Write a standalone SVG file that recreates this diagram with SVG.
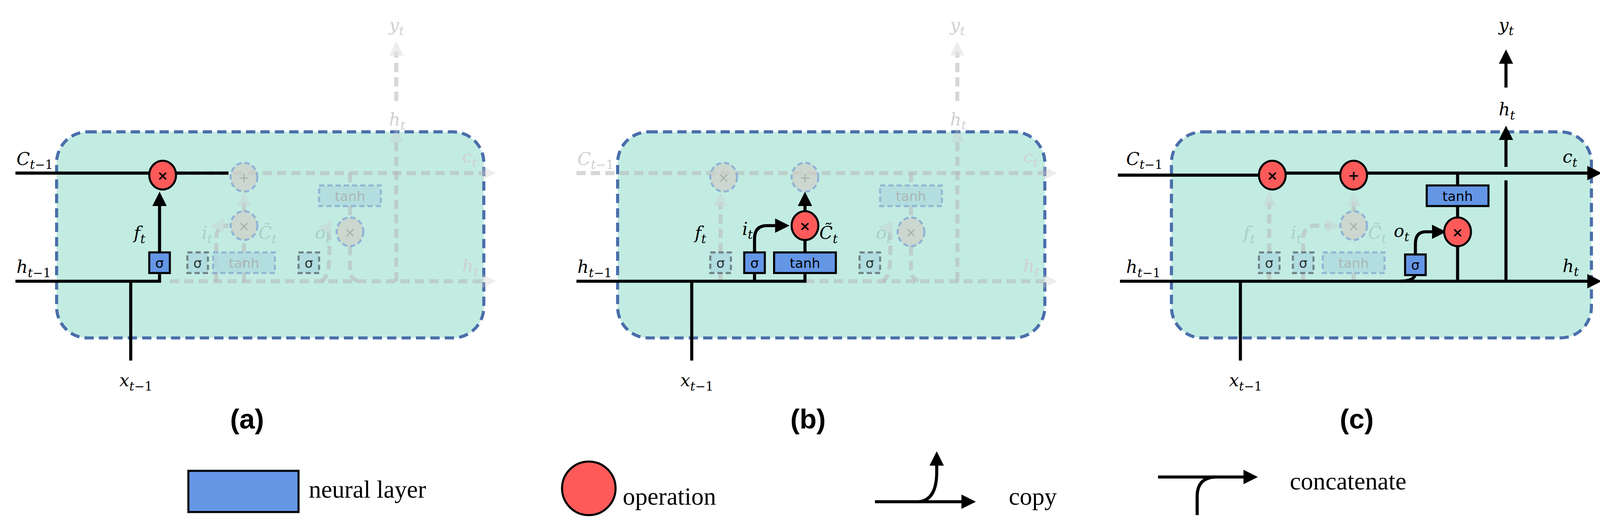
<svg xmlns="http://www.w3.org/2000/svg" width="4132" height="1348" viewBox="0 0 4132 1348">
<style>
.box{fill:#c2ece2;stroke:#4a6eab;stroke-width:3;stroke-dasharray:9 5}
.ln{fill:none;stroke:#000;stroke-width:3}
.gl{fill:none;stroke:#b8b8b8;stroke-width:4;stroke-dasharray:9 5;opacity:.55}
.nl{fill:#6496e6;stroke:#000;stroke-width:2}
.op{fill:#ff5a5a;stroke:#000;stroke-width:2}
.gnl{fill:#add9e0;stroke:#5a6a70;stroke-width:2;stroke-dasharray:5 3}
.gnl2{fill:#add9e0;stroke:#7fa0cc;stroke-width:2;stroke-dasharray:5 3}
.gop{fill:#cfcfc8;stroke:#7b9bd0;stroke-width:2;stroke-dasharray:5 3}
.sym{font-family:"DejaVu Sans",sans-serif;font-weight:bold;font-size:13px;text-anchor:middle}
.gsym{font-family:"DejaVu Sans",sans-serif;font-size:13px;text-anchor:middle;fill:#999}
.bt{font-family:"DejaVu Sans",sans-serif;font-size:13px;text-anchor:middle}
.gbt{font-family:"DejaVu Sans",sans-serif;font-size:13px;text-anchor:middle;fill:#a0a0a0}
.m{font-family:"DejaVu Serif","Liberation Serif",serif;font-style:italic;font-size:17px}
.s{font-size:12px}
.g{fill:#d0d0d0}
.gi{fill:#a8d0c6}
.cap{font-family:"Liberation Sans",Arial,sans-serif;font-weight:bold;font-size:27px;text-anchor:middle}
.leg{font-family:"Liberation Serif","Times New Roman",serif;font-size:24px}
</style>
<defs>
<marker id="ah" markerUnits="userSpaceOnUse" markerWidth="14" markerHeight="14" refX="4" refY="7" orient="auto"><path d="M0,0 L14,7 L0,14 z" fill="#000"/></marker>
<marker id="gh" markerUnits="userSpaceOnUse" markerWidth="14" markerHeight="14" refX="4" refY="7" orient="auto"><path d="M0,0 L14,7 L0,14 z" fill="#ccc" opacity=".6"/></marker>
</defs>
<rect width="4132" height="1348" fill="#fff"/>
<g transform="scale(2.6352)">

<!-- ===== Panel (a) ===== -->
<g id="panel-a">
<rect class="box" x="55" y="128" width="415" height="200" rx="30"/>
<g id="a-connectors">
<path class="gl" d="M171,168 H472" marker-end="url(#gh)"/>
<path class="gl" d="M165,273 H472" marker-end="url(#gh)"/>
<path class="gl" d="M385,273 V134" marker-end="url(#gh)"/>
<path class="gl" d="M385,98 V50" marker-end="url(#gh)"/>
<path class="gl" d="M210,273 V232 Q210,219 222,219 H214" marker-end="url(#gh)"/>
<path class="gl" d="M237,273 V233"/>
<path class="gl" d="M237,205 V196" marker-end="url(#gh)"/>
<path class="gl" d="M312,273 Q320,270 320,245 Q320,221 318,221" marker-end="url(#gh)"/>
<path class="gl" d="M340,168 V180 M340,200 V211 M340,239 V262 Q340,273 352,273"/>
<path class="ln" d="M15,168 H145 M171,168 H222"/>
<path class="ln" d="M15,273 H155 V265"/>
<path class="ln" d="M127,273 V350"/>
<path class="ln" d="M155,245 V196" marker-end="url(#ah)"/>
</g>
<g id="a-nodes">
<g id="a-mul1"><ellipse class="op" cx="158" cy="170" rx="13" ry="14"/><text class="sym" x="158" y="175">×</text></g>
<g id="a-add" opacity=".7"><ellipse class="gop" cx="237" cy="172" rx="13" ry="14"/><text class="gsym" x="237" y="177">+</text></g>
<g id="a-mul2" opacity=".7"><ellipse class="gop" cx="237" cy="219" rx="13" ry="14"/><text class="gsym" x="237" y="224">×</text></g>
<g id="a-mul3" opacity=".7"><ellipse class="gop" cx="340" cy="225" rx="13" ry="14"/><text class="gsym" x="340" y="230">×</text></g>
<g id="a-tanh2" opacity=".7"><rect class="gnl2" x="310" y="180" width="60" height="20"/><text class="gbt" x="340" y="195">tanh</text></g>
<g id="a-sf"><rect class="nl" x="145" y="245" width="20" height="20"/><text class="bt" x="155" y="260">σ</text></g>
<g id="a-si" opacity=".8"><rect class="gnl" x="182" y="245" width="20" height="20"/><text class="bt" x="192" y="260">σ</text></g>
<g id="a-tanh1" opacity=".7"><rect class="gnl2" x="207" y="245" width="60" height="20"/><text class="gbt" x="237" y="260">tanh</text></g>
<g id="a-so" opacity=".8"><rect class="gnl" x="290" y="245" width="20" height="20"/><text class="bt" x="300" y="260">σ</text></g>
</g>
<g id="a-labels">
<text class="m" x="16" y="160">C<tspan class="s" dy="4">t</tspan><tspan class="s" font-style="normal">−1</tspan></text>
<text class="m" x="16" y="265">h<tspan class="s" dy="4">t</tspan><tspan class="s" font-style="normal">−1</tspan></text>
<text class="m" x="116" y="375">x<tspan class="s" dy="4">t</tspan><tspan class="s" font-style="normal">−1</tspan></text>
<text class="m" x="130" y="232">f<tspan class="s" dy="4">t</tspan></text>
<text class="m gi" x="196" y="232">i<tspan class="s" dy="4">t</tspan></text>
<text class="m gi" x="251" y="232">C̃<tspan class="s" dy="4">t</tspan></text>
<text class="m gi" x="306" y="232">o<tspan class="s" dy="4">t</tspan></text>
<text class="m g" x="449" y="158">c<tspan class="s" dy="4">t</tspan></text>
<text class="m g" x="449" y="264">h<tspan class="s" dy="4">t</tspan></text>
<text class="m g" x="378" y="122">h<tspan class="s" dy="4">t</tspan></text>
<text class="m g" x="378" y="30">y<tspan class="s" dy="4">t</tspan></text>
<text class="cap" x="240" y="416">(a)</text>
</g>
</g>

<!-- ===== Panel (b) ===== -->
<g id="panel-b" transform="translate(545,0)">
<rect class="box" x="55" y="128" width="415" height="200" rx="30"/>
<g id="b-connectors">
<path class="gl" d="M15,168 H472" marker-end="url(#gh)"/>
<path class="gl" d="M237,273 H472" marker-end="url(#gh)"/>
<path class="gl" d="M385,273 V134" marker-end="url(#gh)"/>
<path class="gl" d="M385,98 V50" marker-end="url(#gh)"/>
<path class="gl" d="M155,245 V196" marker-end="url(#gh)"/>
<path class="gl" d="M155,273 V265"/>
<path class="gl" d="M312,273 Q320,270 320,245 Q320,221 318,221" marker-end="url(#gh)"/>
<path class="gl" d="M340,168 V180 M340,200 V211 M340,239 V262 Q340,273 352,273"/>
<path class="ln" d="M15,273 H237 V265 M188,273 V265"/>
<path class="ln" d="M127,273 V350"/>
<path class="ln" d="M188,245 V232 Q188,219 200,219 H212" marker-end="url(#ah)"/>
<path class="ln" d="M237,245 V233"/>
<path class="ln" d="M237,205 V196" marker-end="url(#ah)"/>
</g>
<g id="b-nodes">
<g id="b-mul1" opacity=".7"><ellipse class="gop" cx="158" cy="172" rx="13" ry="14"/><text class="gsym" x="158" y="177">×</text></g>
<g id="b-add" opacity=".7"><ellipse class="gop" cx="237" cy="172" rx="13" ry="14"/><text class="gsym" x="237" y="177">+</text></g>
<g id="b-mul2"><ellipse class="op" cx="237" cy="219" rx="13" ry="14"/><text class="sym" x="237" y="224">×</text></g>
<g id="b-mul3" opacity=".7"><ellipse class="gop" cx="340" cy="225" rx="13" ry="14"/><text class="gsym" x="340" y="230">×</text></g>
<g id="b-tanh2" opacity=".7"><rect class="gnl2" x="310" y="180" width="60" height="20"/><text class="gbt" x="340" y="195">tanh</text></g>
<g id="b-sf" opacity=".8"><rect class="gnl" x="145" y="245" width="20" height="20"/><text class="bt" x="155" y="260">σ</text></g>
<g id="b-si"><rect class="nl" x="178" y="245" width="20" height="20"/><text class="bt" x="188" y="260">σ</text></g>
<g id="b-tanh1"><rect class="nl" x="207" y="245" width="60" height="20"/><text class="bt" x="237" y="260">tanh</text></g>
<g id="b-so" opacity=".8"><rect class="gnl" x="290" y="245" width="20" height="20"/><text class="bt" x="300" y="260">σ</text></g>
</g>
<g id="b-labels">
<text class="m g" x="16" y="160">C<tspan class="s" dy="4">t</tspan><tspan class="s" font-style="normal">−1</tspan></text>
<text class="m" x="16" y="265">h<tspan class="s" dy="4">t</tspan><tspan class="s" font-style="normal">−1</tspan></text>
<text class="m" x="116" y="375">x<tspan class="s" dy="4">t</tspan><tspan class="s" font-style="normal">−1</tspan></text>
<text class="m" x="130" y="232">f<tspan class="s" dy="4">t</tspan></text>
<text class="m" x="176" y="228">i<tspan class="s" dy="4">t</tspan></text>
<text class="m" x="251" y="232">C̃<tspan class="s" dy="4">t</tspan></text>
<text class="m gi" x="306" y="232">o<tspan class="s" dy="4">t</tspan></text>
<text class="m g" x="449" y="158">c<tspan class="s" dy="4">t</tspan></text>
<text class="m g" x="449" y="264">h<tspan class="s" dy="4">t</tspan></text>
<text class="m g" x="378" y="122">h<tspan class="s" dy="4">t</tspan></text>
<text class="m g" x="378" y="30">y<tspan class="s" dy="4">t</tspan></text>
<text class="cap" x="240" y="416">(b)</text>
</g>
</g>

<!-- ===== Panel (c) ===== -->
<g id="panel-c" transform="translate(1078,0)">
<rect class="box" x="60" y="128" width="408" height="200" rx="30"/>
<g id="c-connectors">
<path class="gl" d="M155,245 V196" marker-end="url(#gh)"/>
<path class="gl" d="M188,273 V265 M155,273 V265 M237,273 V265"/>
<path class="gl" d="M188,245 V232 Q188,219 200,219 H214" marker-end="url(#gh)"/>
<path class="gl" d="M237,205 V196" marker-end="url(#gh)"/>
<path class="ln" d="M8,170 H145 M171,168 H224 M250,168 H468" marker-end="url(#ah)"/>
<path class="ln" d="M10,273 H468" marker-end="url(#ah)"/>
<path class="ln" d="M127,273 V350"/>
<path class="ln" d="M282,273 Q297,273 297,265"/>
<path class="ln" d="M297,247 V237 Q297,225 307,225 H317" marker-end="url(#ah)"/>
<path class="ln" d="M338,168 V180 M338,200 V211 M338,239 V273"/>
<path class="ln" d="M385,273 V175 M385,162 V132" marker-end="url(#ah)"/>
<path class="ln" d="M385,85 V58" marker-end="url(#ah)"/>
</g>
<g id="c-nodes">
<g id="c-mul1"><ellipse class="op" cx="158" cy="170" rx="13" ry="14"/><text class="sym" x="158" y="175">×</text></g>
<g id="c-add"><ellipse class="op" cx="237" cy="170" rx="13" ry="14"/><text class="sym" x="237" y="175">+</text></g>
<g id="c-mul2" opacity=".7"><ellipse class="gop" cx="237" cy="219" rx="13" ry="14"/><text class="gsym" x="237" y="224">×</text></g>
<g id="c-mul3"><ellipse class="op" cx="338" cy="225" rx="13" ry="14"/><text class="sym" x="338" y="230">×</text></g>
<g id="c-tanh2"><rect class="nl" x="308" y="180" width="60" height="20"/><text class="bt" x="338" y="195">tanh</text></g>
<g id="c-sf" opacity=".8"><rect class="gnl" x="145" y="245" width="20" height="20"/><text class="bt" x="155" y="260">σ</text></g>
<g id="c-si" opacity=".8"><rect class="gnl" x="178" y="245" width="20" height="20"/><text class="bt" x="188" y="260">σ</text></g>
<g id="c-tanh1" opacity=".7"><rect class="gnl2" x="207" y="245" width="60" height="20"/><text class="gbt" x="237" y="260">tanh</text></g>
<g id="c-so"><rect class="nl" x="287" y="247" width="20" height="20"/><text class="bt" x="297" y="262">σ</text></g>
</g>
<g id="c-labels">
<text class="m" x="16" y="160">C<tspan class="s" dy="4">t</tspan><tspan class="s" font-style="normal">−1</tspan></text>
<text class="m" x="16" y="265">h<tspan class="s" dy="4">t</tspan><tspan class="s" font-style="normal">−1</tspan></text>
<text class="m" x="116" y="375">x<tspan class="s" dy="4">t</tspan><tspan class="s" font-style="normal">−1</tspan></text>
<text class="m gi" x="130" y="232">f<tspan class="s" dy="4">t</tspan></text>
<text class="m gi" x="176" y="232">i<tspan class="s" dy="4">t</tspan></text>
<text class="m gi" x="251" y="232">C̃<tspan class="s" dy="4">t</tspan></text>
<text class="m" x="276" y="230">o<tspan class="s" dy="4">t</tspan></text>
<text class="m" x="440" y="158">c<tspan class="s" dy="4">t</tspan></text>
<text class="m" x="440" y="264">h<tspan class="s" dy="4">t</tspan></text>
<text class="m" x="378" y="112">h<tspan class="s" dy="4">t</tspan></text>
<text class="m" x="378" y="30">y<tspan class="s" dy="4">t</tspan></text>
<text class="cap" x="240" y="416">(c)</text>
</g>
</g>

<!-- ===== Legend ===== -->
<g id="legend">
<g id="leg-neural"><rect class="nl" x="183" y="457" width="107" height="40"/><text class="leg" x="300" y="483">neural layer</text></g>
<g id="leg-op"><circle class="op" cx="572" cy="474" r="26"/><text class="leg" x="605" y="490">operation</text></g>
<g id="leg-copy"><path class="ln" d="M850,487 H938" marker-end="url(#ah)"/><path class="ln" d="M893,487 Q910,485 910,458 V448" marker-end="url(#ah)"/><text class="leg" x="980" y="490">copy</text></g>
<g id="leg-concat"><path class="ln" d="M1125,463 H1212" marker-end="url(#ah)"/><path class="ln" d="M1163,500 V482 Q1163,463 1182,463"/><text class="leg" x="1253" y="475">concatenate</text></g>
</g>
</g>
</svg>
